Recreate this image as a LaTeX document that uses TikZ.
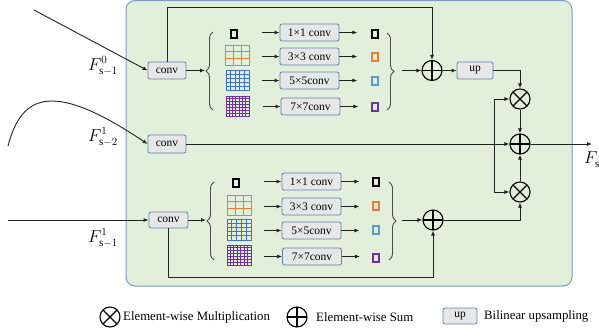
\documentclass[tikz,border=0pt]{standalone}
\usepackage{fontspec}
\setmainfont{Liberation Serif}
\usetikzlibrary{arrows.meta,decorations.pathreplacing,calc}
\definecolor{panelfill}{HTML}{E2EFDA}
\definecolor{panelborder}{HTML}{7A9CC6}
\definecolor{boxfill}{HTML}{E7E7E7}
\definecolor{boxborder}{HTML}{5B83B5}
\definecolor{linec}{HTML}{222222}
\definecolor{gorange}{HTML}{ED7D31}
\definecolor{gblue}{HTML}{4472C4}
\definecolor{glblue}{HTML}{5B9BD5}
\definecolor{gpurple}{HTML}{7030A0}
\newcommand{\mygrid}[6]{%
  \draw[#6, line width=0.9pt] (#1,#2) rectangle (#3,#4);
  \pgfmathtruncatemacro{\nm}{#5-1}
  \foreach \i in {1,...,\nm}{
    \pgfmathsetmacro{\gx}{#1+\i*(#3-#1)/#5}
    \pgfmathsetmacro{\gy}{#2+\i*(#4-#2)/#5}
    \draw[#6, line width=0.8pt] (\gx,#2) -- (\gx,#4);
    \draw[#6, line width=0.8pt] (#1,\gy) -- (#3,\gy);
  }}
\begin{document}
\begin{tikzpicture}[x=1pt,y=-1pt]
\tikzset{
 box/.style={draw=boxborder, fill=boxfill, rounded corners=2pt, line width=0.8pt, inner sep=0pt, font=\fontsize{11.5}{12}\selectfont},
 arr/.style={-{Latex[length=5pt,width=4pt]}, line width=0.9pt, draw=linec},
 ln/.style={line width=0.9pt, draw=linec},
 opl/.style={circle, draw=black, line width=1.1pt, minimum size=20pt, inner sep=0pt,
   path picture={\draw[line width=1.1pt] (path picture bounding box.north) -- (path picture bounding box.south) (path picture bounding box.west) -- (path picture bounding box.east);}},
 otm/.style={circle, draw=black, line width=1.1pt, minimum size=20pt, inner sep=0pt,
   path picture={\draw[line width=1.3pt] (path picture bounding box.north west) -- (path picture bounding box.south east) (path picture bounding box.south west) -- (path picture bounding box.north east);}},
 sq/.style={draw, line width=1.2pt, minimum width=6pt, minimum height=8pt, inner sep=0pt},
 brc/.style={decorate, decoration={brace, amplitude=7pt}, line width=0.9pt, draw=black!70},
 lab/.style={font=\fontsize{16}{18}\selectfont},
 leg/.style={font=\fontsize{12.8}{14}\selectfont, anchor=west, inner sep=0pt},
}
\useasboundingbox (0,0) rectangle (599,335);
% panel
\path[draw=panelborder, fill=panelfill, line width=1pt, rounded corners=9pt] (126,0.5) rectangle (572,286);

% ---------- top branch ----------
\node[box, minimum width=38pt, minimum height=17pt] (ca) at (167,70.5) {conv};
\coordinate (ina) at (34,10);
\draw[arr] (ina) -- (ca.west);
\node[lab] (fa) at (103,66) {$F^{0}_{\mathrm{s}-1}$};
\coordinate (lb1) at (205,70.5);
\draw[brc] (213,110) -- (213,32);
\draw[arr] (ca.east) -- (lb1);
\node[sq] (ia1) at (234,34) {};
\mygrid{225}{45}{249}{65}{3}{gorange}
\mygrid{226}{70}{249}{90}{5}{gblue}
\mygrid{226}{96}{249}{116}{7}{gpurple}
\node[box, minimum width=59pt, minimum height=17pt] (t1) at (309.5,32.5) {1×1 conv};
\node[box, minimum width=59pt, minimum height=17pt] (t2) at (309.5,56.5) {3×3 conv};
\node[box, minimum width=59pt, minimum height=17pt] (t3) at (309.5,80.5) {5×5conv};
\node[box, minimum width=59pt, minimum height=17pt] (t4) at (310.5,106.5) {7×7conv};
\foreach \b in {t1,t2,t3,t4}{
  \draw[arr] ([xshift=-18pt]\b.west) -- (\b.west);
  \draw[arr] (\b.east) -- ++(18,0);
}
\node[sq, draw=black] (sa1) at (375,34) {};
\node[sq, draw=gorange] (sa2) at (375,57) {};
\node[sq, draw=glblue] (sa3) at (375,81) {};
\node[sq, draw=gpurple] (sa4) at (375,107) {};
\draw[brc] (387,33) -- (387,110);
\coordinate (rb1) at (402,70.5);
\node[opl] (op1) at (432,70.5) {};
\draw[arr] (rb1) -- (op1.west);
\coordinate (topy) at (0,7);
\draw[arr] (ca.north) -- (ca.north |- topy) -| (op1.north);
\node[box, minimum width=36pt, minimum height=17pt] (up) at (475,70.5) {up};
\draw[arr] (op1.east) -- (up.west);
\node[otm] (ot1) at (520,99) {};
\draw[arr] (up.east) -| (ot1.north);

% ---------- middle branch ----------
\node[box, minimum width=38pt, minimum height=18pt] (cb) at (167,144) {conv};
\coordinate (inb) at (8,146);
\draw[arr] (inb) .. controls (22,92) and (55,82) .. (cb.west);
\node[lab] (fb) at (103,137) {$F^{1}_{\mathrm{s}-2}$};
\node[opl] (op2) at (520,144) {};
\draw[arr] (cb.east) -- (op2.west);
\coordinate (outp) at (592,144);
\draw[arr] (op2.east) -- (outp);
\node[lab, anchor=west, inner sep=0pt] (fo) at (584,159) {$F^{1}_{\mathrm{s}}$};
\node[otm] (ot2) at (520,192) {};
\draw[arr] (ot1.south) -- (op2.north);
\draw[arr] (ot2.north) -- (op2.south);
\coordinate (jn) at (494,144);
\draw[arr] (jn) |- (ot1.west);
\draw[arr] (jn) |- (ot2.west);

% ---------- bottom branch ----------
\node[box, minimum width=39pt, minimum height=16pt] (cc) at (168.5,220) {conv};
\coordinate (inc) at (8,220);
\draw[arr] (inc) -- (cc.west);
\node[lab] (fc) at (103,238) {$F^{1}_{\mathrm{s}-1}$};
\coordinate (lb2) at (206,220);
\draw[brc] (214,260) -- (214,182);
\draw[arr] (cc.east) -- (lb2);
\node[sq] (ib1) at (236,183) {};
\mygrid{227}{195}{251}{215}{3}{gorange}
\mygrid{227}{219}{251}{240}{5}{gblue}
\mygrid{227}{245}{251}{265}{7}{gpurple}
\node[box, minimum width=59pt, minimum height=17pt] (b1) at (311.5,181.5) {1×1 conv};
\node[box, minimum width=59pt, minimum height=17pt] (b2) at (311.5,206.5) {3×3 conv};
\node[box, minimum width=59pt, minimum height=17pt] (b3) at (311.5,230.5) {5×5conv};
\node[box, minimum width=59pt, minimum height=17pt] (b4) at (312,256.5) {7×7conv};
\foreach \b in {b1,b2,b3,b4}{
  \draw[arr] ([xshift=-18pt]\b.west) -- (\b.west);
  \draw[arr] (\b.east) -- ++(18,0);
}
\node[sq, draw=black] (sb1) at (376,182) {};
\node[sq, draw=gorange] (sb2) at (376,206) {};
\node[sq, draw=glblue] (sb3) at (376,230) {};
\node[sq, draw=gpurple] (sb4) at (376,258) {};
\draw[brc] (389,182) -- (389,260);
\coordinate (rb2) at (402,220);
\node[opl] (op3) at (433,220) {};
\draw[arr] (rb2) -- (op3.west);
\coordinate (boty) at (0,277);
\draw[arr] (cc.south) -- (cc.south |- boty) -| (op3.south);
\draw[arr] (op3.east) -| (ot2.south);

% ---------- legend ----------
\node[otm] (lo) at (110,317) {};
\node[leg] (lot) at (123,317) {Element-wise Multiplication};
\node[opl] (lp) at (297,317) {};
\node[leg] (lpt) at (316,317) {Element-wise Sum};
\node[box, minimum width=34pt, minimum height=16pt] (lu) at (460,316) {up};
\node[leg] (lut) at (484,316) {Bilinear upsampling};
\end{tikzpicture}
\end{document}
